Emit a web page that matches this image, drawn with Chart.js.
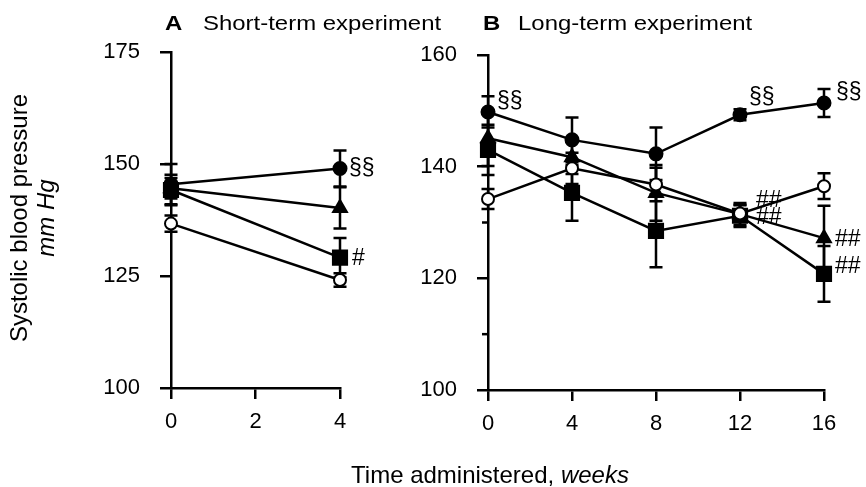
<!DOCTYPE html>
<html>
<head>
<meta charset="utf-8">
<script src="https://cdn.jsdelivr.net/npm/chart.js@4"></script>
<style>
  html, body { margin: 0; padding: 0; background: #fff; }
  #wrap { position: relative; width: 866px; height: 487px; overflow: hidden; font-family: "Liberation Sans", Arial, sans-serif; color: #000; }
  canvas { position: absolute; left: 0; top: 0; }
  .t { position: absolute; white-space: nowrap; line-height: 1; }
  .h { font-size: 21px; transform: scaleX(1.14); transform-origin: 0 0; top: 12px; }
</style>
</head>
<body>
<div id="wrap">
  <canvas id="cA" width="866" height="487"></canvas>
  <canvas id="cB" width="866" height="487"></canvas>
  <div class="t h" style="left:165px;"><b>A</b></div>
  <div class="t h" style="left:203px;">Short-term experiment</div>
  <div class="t h" style="left:483px;"><b>B</b></div>
  <div class="t h" style="left:518px;">Long-term experiment</div>
  <div class="t" style="left:-131px; top:206px; width:300px; text-align:center; font-size:24px; transform:rotate(-90deg);">Systolic blood pressure</div>
  <div class="t" style="left:-104px; top:206px; width:300px; text-align:center; font-size:24px; transform:rotate(-90deg);"><i>mm Hg</i></div>
  <div class="t" style="left:290px; top:463px; width:400px; text-align:center; font-size:24px;">Time administered, <i>weeks</i></div>
</div>
<script>
// ---------------- DATA ----------------
const weeksA = [0, 4];
const ticksA = [100, 125, 150, 175];
const filledA = [145.5, 149.0];
const filledErrA = [4.5, 4.0];
const triangleA = [144.6, 140.2];
const triangleErrA = [2.3, 4.6];
const squareA = [144.2, 129.1];
const squareErrA = [3.4, 4.4];
const openA = [136.7, 124.1];
const openErrA = [1.8, 1.5];

const weeksB = [0, 4, 8, 12, 16];
const ticksB = [100, 120, 140, 160];
const filledB = [149.8, 144.8, 142.3, 149.3, 151.4];
const filledErrB = [2.8, 4.0, 4.7, 1.0, 2.5];
const openB = [134.2, 139.7, 136.8, 131.6, 136.5];
const openErrB = [1.8, 2.8, 3.0, 1.5, 2.3];
const triangleB = [145.1, 141.7, 135.3, 131.5, 127.2];
const triangleErrB = [5.0, 3.0, 5.0, 2.0, 5.8];
const squareB = [143.0, 135.3, 128.5, 131.2, 120.8];
const squareErrB = [4.5, 5.0, 6.5, 2.0, 5.0];

// annotations: [series, index, text]
const notesA = [['filled', 1, '§§'], ['square', 1, '#']];
const notesB = [['filled', 0, '§§'], ['filled', 3, '§§'], ['filled', 4, '§§'],
                ['open', 3, '##'], ['triangle', 3, '##'], ['triangle', 4, '##'], ['square', 4, '##']];
// ---------------------------------------

const FONT = '"Liberation Sans", Arial, sans-serif';
const pts = (xs, ys) => xs.map((x, i) => ({ x: x, y: ys[i] }));

function ds(key, xs, ys, err, style) {
  const base = {
    key: key, data: pts(xs, ys), err: err, clip: false,
    borderColor: '#000', borderWidth: 2.5, showLine: true, tension: 0,
    pointBorderColor: '#000', pointBorderWidth: 2, pointBackgroundColor: '#000'
  };
  return Object.assign(base, style);
}
const sFilled = { pointStyle: 'circle', pointRadius: 6.5 };
const sOpen = { pointStyle: 'circle', pointRadius: 6, pointBackgroundColor: '#fff' };
const sTri = { pointStyle: 'triangle', pointRadius: 8 };
const sSq = { pointStyle: 'rect', pointRadius: 10 };

const errorBars = {
  id: 'errorBars',
  beforeDatasetsDraw(chart) {
    const ctx = chart.ctx, xs = chart.scales.x, ys = chart.scales.y;
    ctx.save();
    ctx.strokeStyle = '#000';
    ctx.lineWidth = 2.5;
    chart.data.datasets.forEach(d => {
      d.data.forEach((p, j) => {
        const e = d.err[j];
        const x = xs.getPixelForValue(p.x);
        const yt = ys.getPixelForValue(p.y + e), yb = ys.getPixelForValue(p.y - e);
        const cw = 6.5;
        ctx.beginPath();
        ctx.moveTo(x, yt); ctx.lineTo(x, yb);
        ctx.moveTo(x - cw, yt); ctx.lineTo(x + cw, yt);
        ctx.moveTo(x - cw, yb); ctx.lineTo(x + cw, yb);
        ctx.stroke();
      });
    });
    ctx.restore();
  }
};

function notesPlugin(notes, offsets) {
  return {
    id: 'notes',
    afterDatasetsDraw(chart) {
      const ctx = chart.ctx, xs = chart.scales.x, ys = chart.scales.y;
      ctx.save();
      ctx.fillStyle = '#000';
      ctx.font = '23px ' + FONT;
      ctx.textAlign = 'left';
      ctx.textBaseline = 'middle';
      notes.forEach((n, k) => {
        const d = chart.data.datasets.find(q => q.key === n[0]);
        const p = d.data[n[1]];
        const o = offsets[k];
        ctx.fillText(n[2], xs.getPixelForValue(p.x) + o[0], ys.getPixelForValue(p.y) + o[1]);
      });
      ctx.restore();
    }
  };
}

function minorTicks(values, len) {
  return {
    id: 'minorTicks',
    afterDraw(chart) {
      const ctx = chart.ctx, ys = chart.scales.y;
      ctx.save();
      ctx.strokeStyle = '#000';
      ctx.lineWidth = 2.5;
      values.forEach(v => {
        const y = ys.getPixelForValue(v);
        ctx.beginPath();
        ctx.moveTo(ys.right - len, y); ctx.lineTo(ys.right, y);
        ctx.stroke();
      });
      ctx.restore();
    }
  };
}

const YW = 90, XH = 60;
function makeOptions(area, xMax, xStep, yMin, yMax, yLabels) {
  return {
    responsive: false, animation: false, devicePixelRatio: 1,
    layout: { autoPadding: false, padding: { left: area.l - YW, right: 866 - area.r, top: area.t, bottom: 487 - area.b - XH } },
    plugins: { legend: { display: false }, tooltip: { enabled: false } },
    scales: {
      x: {
        type: 'linear', min: 0, max: xMax,
        afterFit: s => { s.height = XH; },
        border: { display: true, color: '#000', width: 2.5 },
        grid: { drawOnChartArea: false, drawTicks: true, tickLength: 11, color: '#000', lineWidth: 2.5 },
        ticks: { stepSize: xStep, color: '#000', padding: 10, maxRotation: 0, autoSkip: false, font: { family: FONT, size: 22 } }
      },
      y: {
        type: 'linear', min: yMin, max: yMax,
        afterFit: s => { s.width = YW; },
        afterBuildTicks: s => { s.ticks = yLabels.map(v => ({ value: v })); },
        border: { display: true, color: '#000', width: 2.5 },
        grid: { drawOnChartArea: false, drawTicks: true, tickLength: 11, color: '#000', lineWidth: 2.5 },
        ticks: { color: '#000', padding: 20, autoSkip: false, font: { family: FONT, size: 22 } }
      }
    }
  };
}

new Chart(document.getElementById('cA'), {
  type: 'scatter',
  data: { datasets: [
    ds('open', weeksA, openA, openErrA, sOpen),
    ds('filled', weeksA, filledA, filledErrA, sFilled),
    ds('square', weeksA, squareA, squareErrA, sSq),
    ds('triangle', weeksA, triangleA, triangleErrA, sTri)
  ]},
  options: makeOptions({ l: 171, r: 340, t: 52, b: 388 }, 4, 2, 100, 175, ticksA),
  plugins: [errorBars, notesPlugin(notesA, [[9, 0], [12, 1]])]
});

new Chart(document.getElementById('cB'), {
  type: 'scatter',
  data: { datasets: [
    ds('open', weeksB, openB, openErrB, sOpen),
    ds('square', weeksB, squareB, squareErrB, sSq),
    ds('triangle', weeksB, triangleB, triangleErrB, sTri),
    ds('filled', weeksB, filledB, filledErrB, sFilled)
  ]},
  options: makeOptions({ l: 488, r: 824, t: 55, b: 390 }, 16, 4, 100, 160, ticksB),
  plugins: [errorBars, notesPlugin(notesB, [[9, -10], [9, -17], [12, -10], [16, -13], [16, 4], [11, 2], [11, -7]]), minorTicks([110, 130, 150], 6)]
});
</script>
</body>
</html>
